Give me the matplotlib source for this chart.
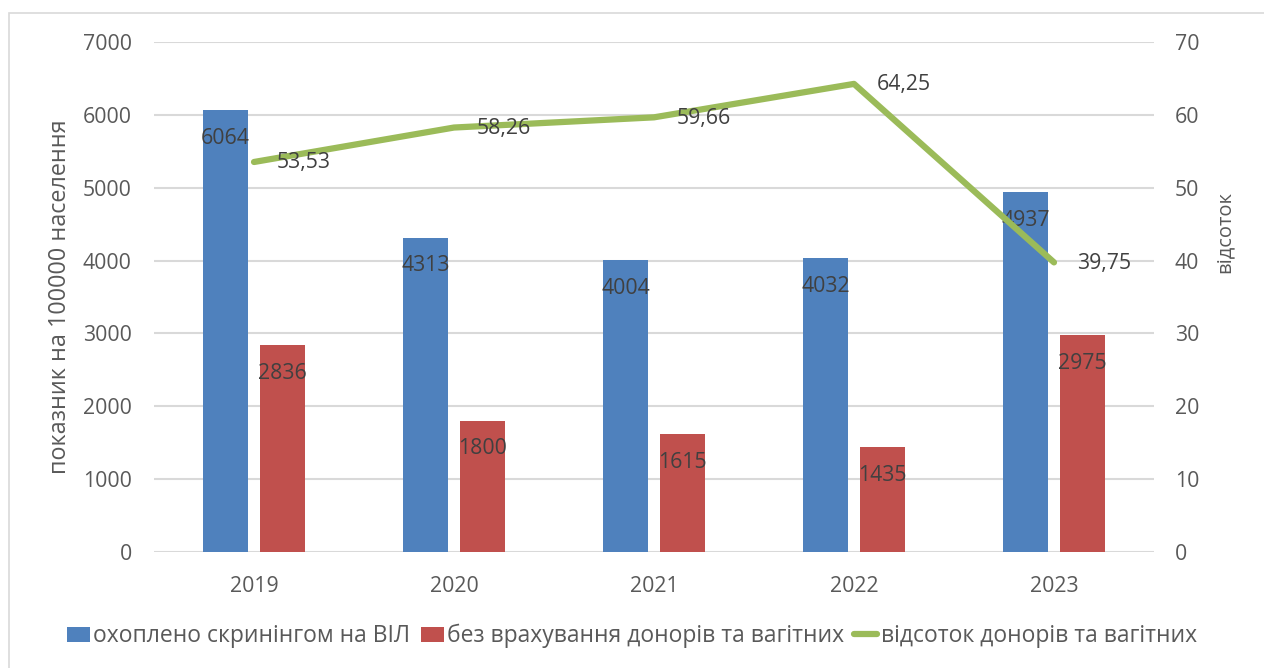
import matplotlib
matplotlib.use("Agg")
import matplotlib.pyplot as plt
from matplotlib.patches import Rectangle
import numpy as np

plt.rcParams['font.family'] = ['Open Sans', 'DejaVu Sans']

years = ["2019", "2020", "2021", "2022", "2023"]
screened = [6064, 4313, 4004, 4032, 4937]
without_donors = [2836, 1800, 1615, 1435, 2975]
donor_share = [53.53, 58.26, 59.66, 64.25, 39.75]

series_names = ["охоплено скринінгом на ВІЛ",
                "без врахування донорів та вагітних",
                "відсоток донорів та вагітних"]
left_label = "показник на 100000 населення"
right_label = "відсоток"

BLUE = "#4F81BD"
RED = "#C0504D"
GREEN = "#9BBB59"
GRID = "#D9D9D9"
TICK = "#595959"
LABEL = "#404040"
FS = 15.3

fig = plt.figure(figsize=(12.64, 6.68), dpi=100)
fig.patches.append(Rectangle((9 / 1264, -0.1), 1.2, (655 + 0.1 * 668) / 668,
                             transform=fig.transFigure, fill=False,
                             edgecolor="#D9D9D9", linewidth=1.2))

ax = fig.add_axes([154 / 1264, 1 - 552 / 668, 1000 / 1264, 510 / 668])
ax2 = ax.twinx()

x = np.arange(len(years))
w = 0.225
off = 0.1425
b1 = ax.bar(x - off, screened, w, color=BLUE, label=series_names[0], zorder=2)
b2 = ax.bar(x + off, without_donors, w, color=RED, label=series_names[1], zorder=2)

for bars, vals in ((b1, screened), (b2, without_donors)):
    for rect, v in zip(bars, vals):
        ax.annotate(f"{v}", (rect.get_x() + rect.get_width() / 2, v),
                    xytext=(0, -28), textcoords="offset pixels",
                    ha="center", va="center", fontsize=FS, color=LABEL, zorder=5)

ln, = ax2.plot(x, donor_share, color=GREEN, linewidth=4.5,
               solid_capstyle="round", label=series_names[2], zorder=3)
for xi, v in zip(x, donor_share):
    ax2.annotate(f"{v:.2f}".replace(".", ","), (xi, v),
                 xytext=(23, -1), textcoords="offset pixels",
                 ha="left", va="center", fontsize=FS, color=LABEL)

ax.set_xlim(-0.5, len(years) - 0.5)
ax.set_ylim(0, 7000)
ax.set_yticks(np.arange(0, 7001, 1000))
ax2.set_ylim(0, 70)
ax2.set_yticks(np.arange(0, 71, 10))
ax.set_xticks(x)
ax.set_xticklabels(years)

ax.grid(axis="y", color=GRID, linewidth=1.5, zorder=0)
ax.set_axisbelow(True)
for a in (ax, ax2):
    for s in a.spines.values():
        s.set_visible(False)
    a.tick_params(length=0, labelsize=FS, colors=TICK)
ax.tick_params(axis="y", pad=16)
ax.tick_params(axis="x", pad=17)
ax2.tick_params(axis="y", pad=15)

ax.set_ylabel(left_label, fontsize=16.8, color=TICK)
ax.yaxis.set_label_coords(-0.082, 0.5)
ax2.set_ylabel(right_label, fontsize=14.5, color=TICK)
ax2.yaxis.set_label_coords(1.061, 0.627)

fig.legend(handles=[b1, b2, ln], labels=series_names, loc="center",
           bbox_to_anchor=(0.5, 1 - 636 / 668), ncol=3, frameon=False,
           fontsize=16.5, labelcolor=TICK, handlelength=1.0, handleheight=0.62,
           handletextpad=0.15, columnspacing=0.45)

fig.savefig("out.png", dpi=100)
